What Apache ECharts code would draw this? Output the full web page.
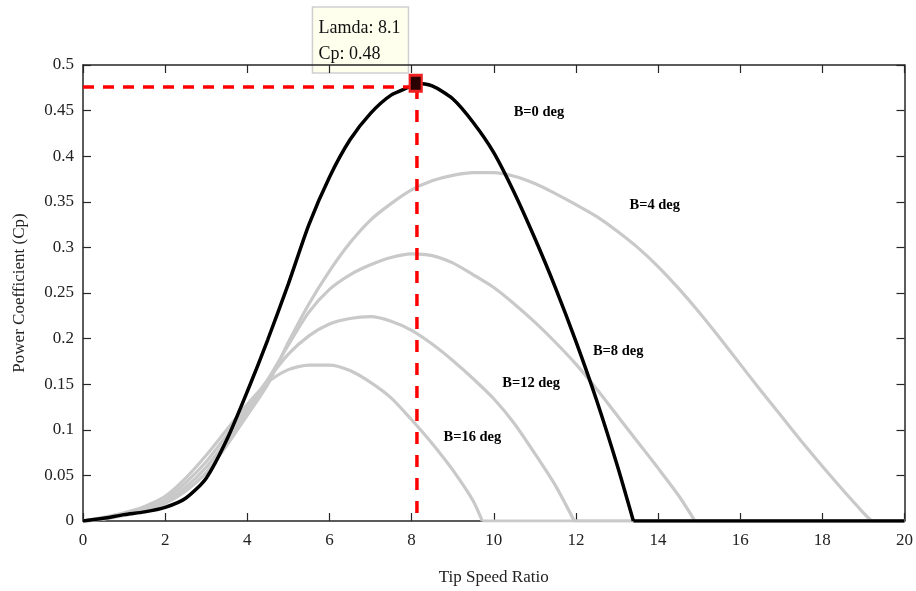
<!DOCTYPE html>
<html>
<head>
<meta charset="utf-8">
<script src="https://cdn.jsdelivr.net/npm/echarts@6/dist/echarts.min.js"></script>
<style>
  html, body { margin: 0; padding: 0; background: #ffffff; }
  #chart { width: 916px; height: 591px; }
</style>
</head>
<body>
<div id="chart"></div>
<script>
// ---- data ----
const lambdaB0 = [0, 0.5, 1, 1.5, 2, 2.5, 3, 3.5, 4, 4.5, 5, 5.5, 6, 6.5, 7, 7.5, 8, 8.1, 8.5, 9, 9.5, 10, 10.5, 11, 11.5, 12, 12.5, 13, 13.4, 20];
const cpB0     = [0, 0.003, 0.007, 0.010, 0.015, 0.025, 0.047, 0.089, 0.142, 0.199, 0.260, 0.325, 0.377, 0.418, 0.447, 0.467, 0.477, 0.480, 0.477, 0.463, 0.437, 0.404, 0.360, 0.310, 0.256, 0.197, 0.133, 0.062, 0, 0];

const lambdaB4 = [0, 0.5, 1, 1.5, 2, 2.5, 3, 3.5, 4, 4.5, 5, 5.5, 6, 6.5, 7, 7.5, 8, 8.5, 9, 9.5, 10, 10.5, 11, 11.5, 12, 12.5, 13, 13.5, 14, 14.5, 15, 15.5, 16, 16.5, 17, 17.5, 18, 18.5, 19, 19.2, 20];
const cpB4     = [0, 0.002, 0.006, 0.011, 0.019, 0.033, 0.053, 0.083, 0.116, 0.150, 0.196, 0.238, 0.274, 0.305, 0.330, 0.348, 0.363, 0.373, 0.379, 0.382, 0.382, 0.378, 0.370, 0.359, 0.347, 0.334, 0.318, 0.300, 0.279, 0.255, 0.229, 0.201, 0.172, 0.143, 0.115, 0.087, 0.060, 0.034, 0.009, 0, 0];

const lambdaB8 = [0, 0.5, 1, 1.5, 2, 2.5, 3, 3.5, 4, 4.5, 5, 5.5, 6, 6.5, 7, 7.5, 8, 8.5, 9, 9.5, 10, 10.5, 11, 11.5, 12, 12.5, 13, 13.5, 14, 14.5, 14.9, 20];
const cpB8     = [0, 0.003, 0.007, 0.012, 0.021, 0.037, 0.059, 0.088, 0.120, 0.155, 0.193, 0.229, 0.254, 0.270, 0.281, 0.289, 0.293, 0.291, 0.283, 0.270, 0.256, 0.238, 0.218, 0.196, 0.172, 0.145, 0.116, 0.087, 0.058, 0.028, 0, 0];

const lambdaB12 = [0, 0.5, 1, 1.5, 2, 2.5, 3, 3.5, 4, 4.5, 5, 5.5, 6, 6.5, 7, 7.5, 8, 8.5, 9, 9.5, 10, 10.5, 11, 11.5, 11.96, 20];
const cpB12     = [0, 0.003, 0.008, 0.014, 0.024, 0.042, 0.065, 0.094, 0.124, 0.155, 0.183, 0.203, 0.216, 0.222, 0.224, 0.219, 0.209, 0.194, 0.176, 0.156, 0.134, 0.107, 0.074, 0.039, 0, 0];

const lambdaB16 = [0, 0.5, 1, 1.5, 2, 2.5, 3, 3.5, 4, 4.5, 5, 5.5, 6, 6.5, 7, 7.5, 8, 8.5, 9, 9.5, 9.72, 20];
const cpB16     = [0, 0.004, 0.009, 0.016, 0.027, 0.047, 0.072, 0.100, 0.128, 0.152, 0.166, 0.171, 0.171, 0.165, 0.152, 0.135, 0.111, 0.085, 0.056, 0.022, 0, 0];

const curveNames = ['B=0 deg', 'B=4 deg', 'B=8 deg', 'B=12 deg', 'B=16 deg'];
const labelX = [11.1, 13.92, 13.03, 10.91, 9.48];
const labelY = [0.448, 0.346, 0.186, 0.151, 0.092];

const optLambda = 8.1;
const optCp = 0.48;
const guideCp = 0.476;
const guideLambda = 8.13;

const xTicks = { min: 0, max: 20, interval: 2 };
const yTicks = { min: 0, max: 0.5, interval: 0.05 };

// ---- build ----
const zip = (xs, ys) => xs.map((x, i) => [x, ys[i]]);
const serif = 'Liberation Serif, Times New Roman, serif';
const axisColor = '#262626';

const chart = echarts.init(document.getElementById('chart'), null, { renderer: 'canvas' });

// each curve: smooth rising/falling part up to its zero point, then a straight flat tail
function curve(name, xs, ys, color, width, z) {
  const pts = zip(xs, ys);
  const n = pts.length;
  return [
    {
      name, type: 'line', data: pts.slice(0, n - 1), showSymbol: false, symbol: 'none',
      smooth: 0.25, clip: true,
      lineStyle: { color, width }, z, silent: true
    },
    {
      name: name + ' tail', type: 'line', data: pts.slice(n - 2), showSymbol: false, symbol: 'none',
      clip: true, lineStyle: { color, width }, z, silent: true
    }
  ];
}

const baseX = {
  type: 'value', min: xTicks.min, max: xTicks.max, interval: xTicks.interval,
  axisLine: { show: true, onZero: false, lineStyle: { color: axisColor, width: 1.5 } },
  axisTick: { show: true, inside: true, length: 8, lineStyle: { color: axisColor, width: 1.2 } },
  splitLine: { show: false }
};
const baseY = {
  type: 'value', min: yTicks.min, max: yTicks.max, interval: yTicks.interval,
  axisLine: { show: true, onZero: false, lineStyle: { color: axisColor, width: 1.5 } },
  axisTick: { show: true, inside: true, length: 8, lineStyle: { color: axisColor, width: 1.2 } },
  splitLine: { show: false }
};

const gray = '#c9c9c9';
const option = {
  backgroundColor: '#ffffff',
  animation: false,
  grid: { left: 83, right: 10, top: 65, bottom: 70 },
  xAxis: [
    Object.assign({}, baseX, {
      position: 'bottom',
      axisLabel: { fontFamily: serif, fontSize: 17, color: '#222', margin: 11 },
      name: 'Tip Speed Ratio', nameLocation: 'middle', nameGap: 48,
      nameTextStyle: { fontFamily: serif, fontSize: 17, color: '#222' }
    }),
    Object.assign({}, baseX, { position: 'top', axisLabel: { show: false } })
  ],
  yAxis: [
    Object.assign({}, baseY, {
      position: 'left',
      axisLabel: { fontFamily: serif, fontSize: 17, color: '#222', margin: 9,
        formatter: v => String(Math.round(v * 100) / 100) },
      name: 'Power Coefficient (Cp)', nameLocation: 'middle', nameGap: 55,
      nameTextStyle: { fontFamily: serif, fontSize: 17, color: '#222' }
    }),
    Object.assign({}, baseY, { position: 'right', axisLabel: { show: false } })
  ],
  series: [].concat(
    curve('B=4', lambdaB4, cpB4, gray, 3.2, 2),
    curve('B=8', lambdaB8, cpB8, gray, 3.2, 2),
    curve('B=12', lambdaB12, cpB12, gray, 3.2, 2),
    curve('B=16', lambdaB16, cpB16, gray, 3.2, 2),
    curve('B=0', lambdaB0, cpB0, '#000000', 3.5, 4),
    [
      {
        name: 'guideH', type: 'line', data: [[xTicks.min, guideCp], [optLambda, guideCp]],
        showSymbol: false, symbol: 'none',
        lineStyle: { color: '#ff0000', width: 3.5, type: [11, 9] }, z: 5, silent: true
      },
      {
        name: 'guideV', type: 'line', data: [[guideLambda, guideCp], [guideLambda, yTicks.min]],
        showSymbol: false, symbol: 'none',
        lineStyle: { color: '#ff0000', width: 3.5, type: [12, 11] }, z: 5, silent: true
      },
      {
        name: 'opt', type: 'scatter', data: [[optLambda, optCp]],
        symbol: 'rect', symbolSize: [12, 16],
        itemStyle: { color: '#2a0000', borderColor: '#ee2222', borderWidth: 2.5, opacity: 1 }, z: 6, silent: true
      },
      {
        name: 'labels', type: 'scatter', symbolSize: 0,
        data: labelX.map((x, i) => ({ value: [x, labelY[i]], name: curveNames[i] })),
        itemStyle: { opacity: 1 },
        label: { show: true, position: 'inside', formatter: p => p.name,
          fontFamily: serif, fontWeight: 'bold', fontSize: 14.5, color: '#000', opacity: 1 },
        z: 7, silent: true
      }
    ]
  )
};
chart.setOption(option);

// data tip box anchored at the optimum point
const p = chart.convertToPixel({ xAxisIndex: 0, yAxisIndex: 0 }, [optLambda, optCp]);
chart.setOption({
  graphic: [{
    type: 'group', left: p[0] - 104, top: p[1] - 77, z: 100,
    children: [
      { type: 'rect', shape: { x: 0, y: 0, width: 96, height: 66 },
        style: { fill: '#ffffee', stroke: '#cfcfcf', lineWidth: 1.5 } },
      { type: 'text', left: 6, top: 12,
        style: { text: 'Lamda: ' + optLambda, font: '18px ' + serif, fill: '#111' } },
      { type: 'text', left: 6, top: 38,
        style: { text: 'Cp: ' + optCp, font: '18px ' + serif, fill: '#111' } }
    ]
  }]
});
</script>
</body>
</html>
